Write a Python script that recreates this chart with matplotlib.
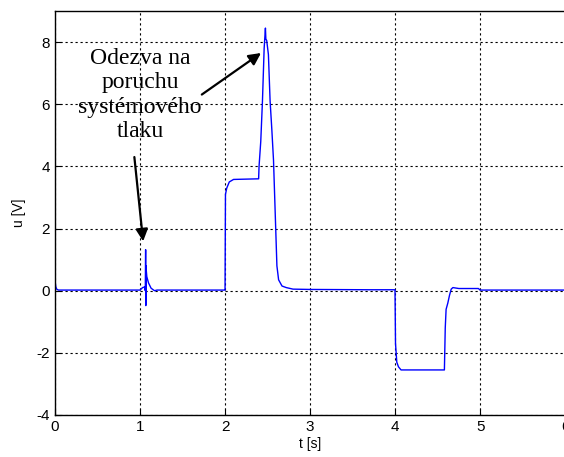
import matplotlib
matplotlib.use("Agg")
import matplotlib.pyplot as plt

plt.rcParams["font.family"] = ["Liberation Sans", "DejaVu Sans"]
plt.rcParams["axes.unicode_minus"] = False

# signal (t in s, u in V)
t = [0.0, 0.003, 0.01, 0.02, 0.04, 1.0, 1.03, 1.055, 1.062, 1.066, 1.068, 1.070, 1.072,
     1.08, 1.10, 1.13, 1.17, 1.2, 1.99, 2.0, 2.005, 2.02, 2.05, 2.10, 2.395,
     2.40, 2.42, 2.44, 2.46, 2.475, 2.48, 2.49, 2.51, 2.53, 2.55, 2.57, 2.59,
     2.61, 2.63, 2.67, 2.72, 2.80, 3.0, 3.7, 3.999,
     4.005, 4.02, 4.04, 4.07, 4.58, 4.59, 4.60, 4.62, 4.64, 4.66, 4.68, 4.75, 4.98, 5.0, 6.0]
u = [0.32, 0.25, 0.12, 0.05, 0.02, 0.02, 0.1, 0.12, 0.0, 1.32, -0.48, 0.8, 0.7,
     0.45, 0.25, 0.08, 0.0, 0.02, 0.02, 0.02, 3.1, 3.3, 3.5, 3.58, 3.6,
     4.0, 4.8, 6.1, 7.8, 8.45, 8.1, 8.05, 7.6, 6.1, 5.2, 4.2, 2.5,
     0.8, 0.35, 0.15, 0.1, 0.05, 0.04, 0.03, 0.03,
     -1.7, -2.3, -2.45, -2.55, -2.55, -1.2, -0.6, -0.4, -0.15, 0.05, 0.1, 0.07, 0.07, 0.02, 0.02]

xticks = [0, 1, 2, 3, 4, 5, 6]
yticks = [-4, -2, 0, 2, 4, 6, 8]

fig = plt.figure(figsize=(5.64, 4.57), dpi=100)
ax = fig.add_axes([55 / 564, 1 - 415 / 457, 1 - 55 / 564 + 0.002, (415 - 11) / 457])
ax.plot(t, u, color="#0000ff", lw=1.0)
ax.set_xlim(0, 6)
ax.set_ylim(-4, 9)
ax.set_xticks(xticks)
ax.set_yticks(yticks)
ax.grid(True, color="black", linestyle=(0, (2, 2.5)), linewidth=0.8)
ax.tick_params(direction="in", labelsize=11, length=4)
for s in ax.spines.values():
    s.set_linewidth(1.0)
ax.set_xlabel("t [s]", fontsize=10, labelpad=2)
ax.set_ylabel("u [V]", fontsize=10, labelpad=8)

ax.text(1.0, 6.3, "Odezva na\nporuchu\nsystémového\ntlaku", ha="center", va="center",
        family="Liberation Serif", fontsize=17, linespacing=1.22)
ax.annotate("", xy=(2.45, 7.7), xytext=(1.7, 6.26),
            arrowprops=dict(arrowstyle="-|>", color="black", lw=1.6, mutation_scale=18))
ax.annotate("", xy=(1.04, 1.5), xytext=(0.93, 4.39),
            arrowprops=dict(arrowstyle="-|>", color="black", lw=1.6, mutation_scale=18))

plt.savefig("out.png", dpi=100)
